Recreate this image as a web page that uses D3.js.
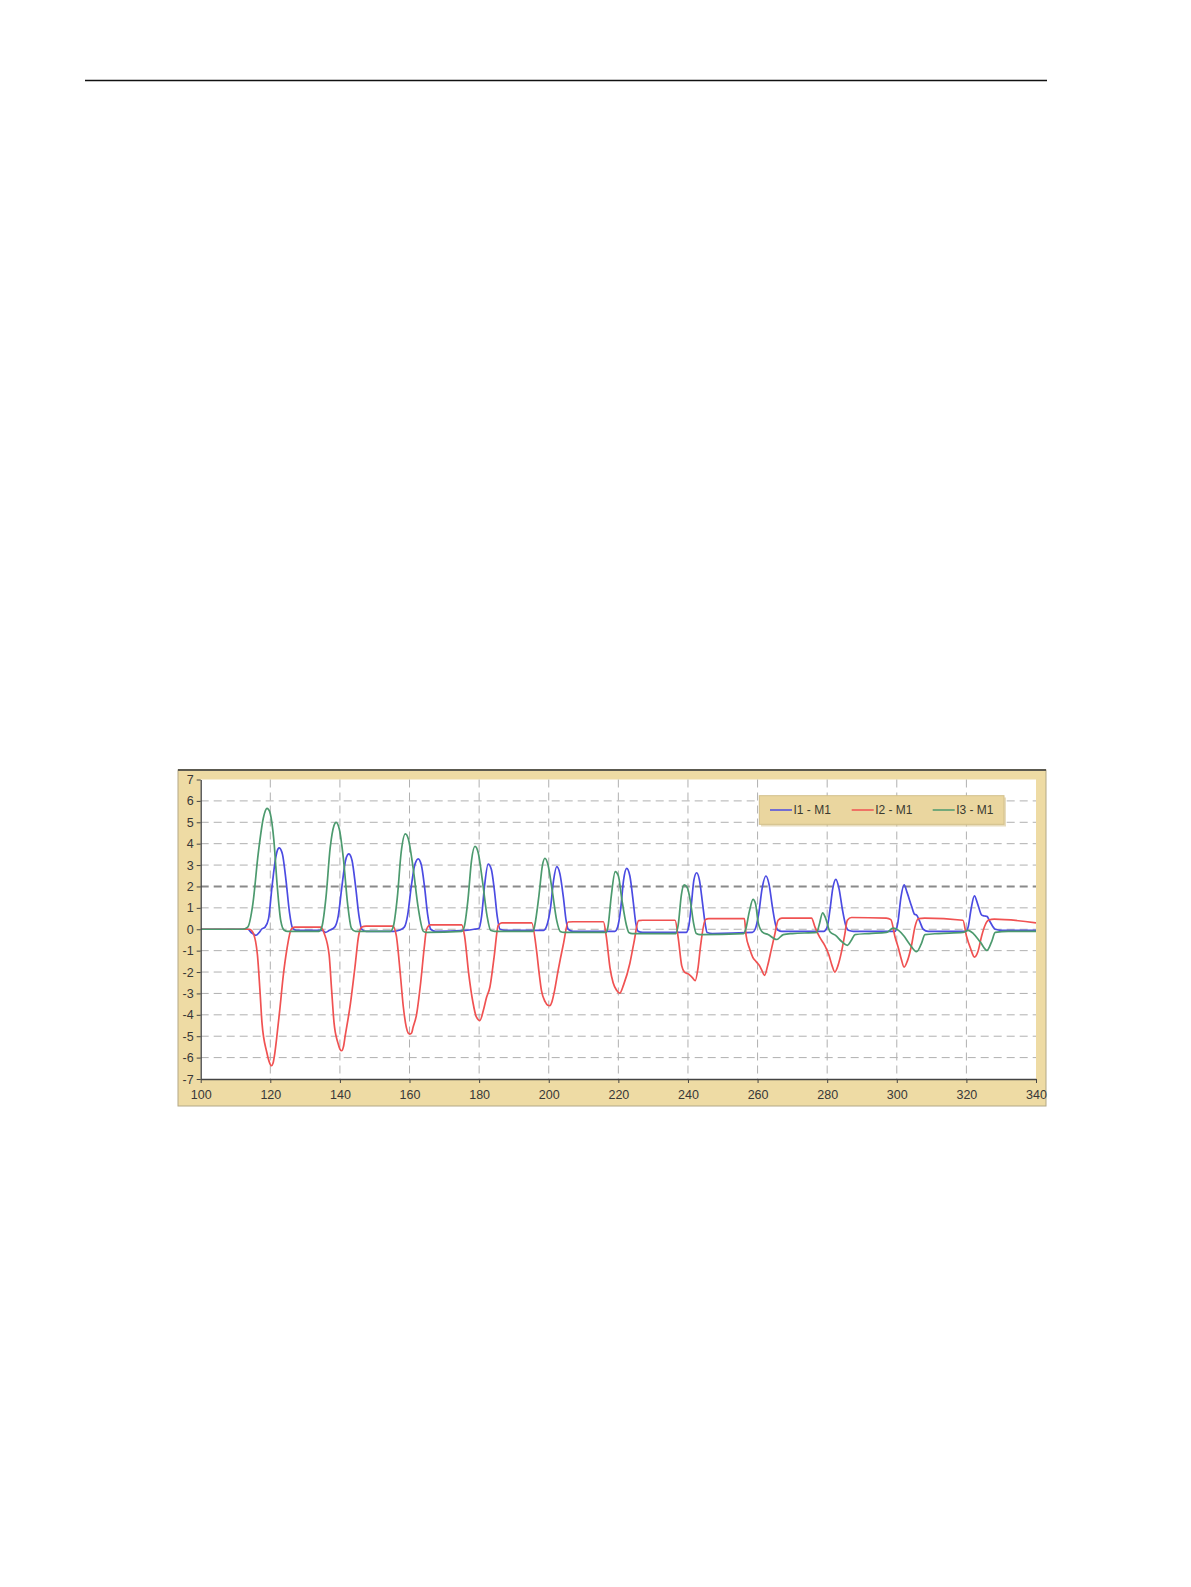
<!DOCTYPE html>
<html>
<head>
<meta charset="utf-8">
<script src="https://cdn.jsdelivr.net/npm/d3@7/dist/d3.min.js"></script>
<style>
  body { margin: 0; background: #fff; }
  svg text { font-family: "Liberation Sans", Arial, sans-serif; }
</style>
</head>
<body>
<svg id="chart" width="1191" height="1587"></svg>
<script>
// ---- data: [time, value] ----
var xTicks = [100, 120, 140, 160, 180, 200, 220, 240, 260, 280, 300, 320, 340];
var yTicks = [-7, -6, -5, -4, -3, -2, -1, 0, 1, 2, 3, 4, 5, 6, 7];
var seriesNames = ["I1 - M1", "I2 - M1", "I3 - M1"];
var seriesColors = ["#4b4be2", "#f05252", "#4c9a6e"];

var i1 = [[100,0],[113.5,0],[114.5,-0.15],[115.9,-0.28],[116.8,-0.15],[117.5,0],[118.5,0.1],[119.5,0.5],[120.5,2.0],[121.5,3.3],[122.2,3.75],[122.6,3.8],[123.1,3.7],[123.5,3.5],[124.5,2.3],[125.5,0.8],[126.4,0.05],[127.5,-0.05],
  [135,-0.05],[135.8,-0.15],[137,-0.05],[138.5,0.1],[139.5,0.6],[140.5,1.9],[141.6,3.2],[142.2,3.48],[142.6,3.52],[143,3.45],[143.5,3.2],[144.5,2.0],[145.5,0.6],[146.3,0],[147.5,-0.1],
  [155.5,-0.1],[157,-0.05],[158.5,0.1],[159.5,0.7],[160.5,2.0],[161.5,3.0],[162.5,3.29],[163.4,3.0],[164.3,2.0],[165.2,0.7],[166.1,0],[167.5,-0.1],
  [176,-0.05],[178.5,0],[180,0.05],[180.7,0.6],[181.6,2.1],[182.6,3.05],[183.5,2.8],[184.4,1.8],[185.2,0.6],[186,0],[187.5,-0.05],
  [198.5,-0.05],[199.5,0.2],[200.5,1.0],[201.4,2.3],[202.3,2.93],[203.2,2.6],[204.2,1.5],[205,0.4],[205.6,0],[207,-0.1],
  [219,-0.1],[219.8,0.1],[220.7,1.0],[221.5,2.3],[222.4,2.85],[223.3,2.5],[224.2,1.4],[225,0.3],[225.7,-0.1],[227,-0.15],
  [239.5,-0.15],[240.3,0.2],[241,1.2],[241.7,2.3],[242.5,2.64],[243.3,2.3],[244.2,1.2],[245,0.2],[245.5,-0.15],[247,-0.2],
  [258.5,-0.15],[259.3,0],[260.3,0.7],[261.3,1.9],[262.4,2.49],[263.3,2.1],[264.3,1.0],[265.2,0.2],[265.9,-0.05],[267,-0.1],
  [279,-0.1],[280,0.1],[280.8,0.9],[281.6,1.9],[282.5,2.33],[283.4,1.9],[284.4,0.9],[285.3,0.2],[286.1,-0.05],[287.5,-0.1],
  [299.5,-0.1],[300.3,0.3],[301.2,1.5],[302.1,2.07],[303,1.7],[304.3,1.05],[305.1,0.7],[305.7,0.66],[306.5,0.4],[307.6,0],[309,-0.1],
  [319.8,-0.1],[320.5,0.1],[321.3,0.9],[322.3,1.56],[323.2,1.2],[324.4,0.66],[325.2,0.62],[325.9,0.6],[326.8,0.35],[328.3,0],[330,-0.05],[340,-0.05]];

var i2 = [[100,0],[114,0],[115,-0.15],[116.3,-1.2],[117,-2.8],[117.6,-4.35],[119,-5.76],[119.7,-6.2],[120.3,-6.38],[120.8,-6.25],[121.2,-5.9],[121.8,-5.13],[122.7,-3.8],[123.7,-2.2],[124.8,-0.9],[126,0],[127,0.1],[134.5,0.1],
  [135.5,-0.2],[136.9,-1.2],[137.6,-2.8],[138.3,-4.35],[139.4,-5.3],[140,-5.6],[140.5,-5.68],[141,-5.5],[141.5,-5.0],[143,-3.5],[144.3,-1.8],[145.4,-0.28],[146.3,0.1],[147.5,0.15],[155.2,0.15],
  [156.2,-0.3],[157.3,-2.0],[158.2,-3.6],[159.1,-4.6],[159.6,-4.85],[160.1,-4.9],[160.6,-4.85],[161,-4.6],[162,-4.0],[163.2,-2.5],[164.2,-0.9],[164.9,0],[166,0.2],[175,0.2],
  [175.8,-0.3],[177,-2.07],[178.2,-3.4],[179.2,-4.1],[180.2,-4.27],[181.2,-3.8],[182.1,-3.2],[183.1,-2.7],[184.3,-1.3],[185.5,0.19],[186.5,0.3],[195.1,0.3],
  [196.5,-1.0],[197.2,-2.0],[197.9,-2.86],[199,-3.4],[199.7,-3.55],[200.3,-3.57],[200.9,-3.4],[201.5,-3.0],[202.7,-1.92],[204.2,-0.7],[205.6,0.34],[207,0.35],[215.7,0.35],
  [216.5,-0.3],[217.6,-1.8],[218.5,-2.5],[219.5,-2.85],[220.4,-2.99],[221.5,-2.6],[223.3,-1.6],[224.5,-0.6],[225.8,0.4],[227,0.42],[236.3,0.42],
  [237.2,-0.4],[238.2,-1.7],[239,-2.0],[240.2,-2.1],[241.2,-2.25],[242.1,-2.4],[242.9,-1.8],[243.6,-0.8],[245,0.45],[246,0.5],[256.2,0.5],
  [256.7,-0.28],[257.7,-0.9],[258.6,-1.3],[259.5,-1.5],[260.5,-1.69],[261.3,-1.95],[262,-2.16],[262.9,-1.7],[263.9,-0.99],[265,-0.2],[265.9,0.42],[267,0.52],[275.5,0.52],
  [276.5,0.1],[277.8,-0.36],[279.3,-0.75],[280.5,-1.2],[281.4,-1.7],[282.2,-2.0],[283.1,-1.7],[284.2,-0.99],[285,-0.3],[285.8,0.42],[287,0.55],[297,0.52],[298.3,0.45],
  [299.5,-0.36],[300.5,-0.9],[301.3,-1.4],[302.1,-1.77],[303,-1.5],[304.3,-0.7],[305.2,0.1],[306.2,0.5],[308,0.52],[319,0.42],
  [320,-0.3],[321.2,-0.9],[322.3,-1.3],[323.3,-1.05],[324.4,-0.3],[325.4,0.2],[326.3,0.42],[328,0.47],[340,0.3]];

var i3 = [[100,0],[112,0],[113.5,0.1],[115,1.2],[116.5,3.5],[118,5.2],[118.6,5.55],[119,5.65],[119.5,5.6],[120,5.4],[121,4.2],[122,2.0],[123,0.4],[124,-0.05],[125,-0.1],[134,-0.1],
  [134.8,0.1],[136,1.5],[137.2,3.8],[138.3,4.85],[138.9,5.0],[139.8,4.7],[141,3.3],[142.2,1.2],[143.3,0.05],[144.5,-0.1],[154.5,-0.1],
  [155.3,0.1],[156.5,1.5],[157.6,3.6],[158.8,4.46],[159.7,4.2],[161,2.9],[162.5,1.0],[164,-0.1],[165,-0.15],[175,-0.1],
  [175.7,0.1],[176.8,1.4],[177.8,3.2],[178.8,3.87],[179.7,3.6],[181,2.2],[182.3,0.6],[183.3,-0.05],[184.5,-0.1],[195.5,-0.1],
  [196,0.2],[197.2,1.6],[198.2,3.0],[198.9,3.32],[199.8,3.0],[201,1.8],[202.3,0.4],[203.3,-0.1],[204.5,-0.15],[216.5,-0.15],
  [217,0.1],[218,1.6],[219.1,2.69],[220,2.5],[221,1.4],[222.3,0.2],[223,-0.15],[224,-0.2],[236.5,-0.2],
  [237.2,0.2],[238.1,1.6],[238.9,2.07],[239.8,1.95],[240.7,1.3],[241.6,0.3],[242.4,-0.2],[243.5,-0.25],[256,-0.2],
  [256.6,0],[257.6,0.8],[258.7,1.4],[259.4,1.2],[260.2,0.3],[261.5,-0.15],[263,-0.25],[265.5,-0.48],[267.4,-0.25],[270,-0.2],[277,-0.15],
  [277.7,0.2],[278.7,0.77],[279.6,0.5],[280.8,-0.12],[282.5,-0.3],[284,-0.55],[285.8,-0.75],[287,-0.5],[288,-0.25],[292,-0.2],[297,-0.15],
  [299,0.05],[300.5,-0.05],[302,-0.3],[303.5,-0.65],[305.7,-1.05],[307,-0.7],[308.1,-0.25],[312,-0.2],[319,-0.15],
  [320.5,-0.05],[322,-0.2],[324,-0.6],[325.9,-0.99],[327.2,-0.6],[328.3,-0.15],[332,-0.1],[340,-0.1]];

var seriesData = [i1, i2, i3];
var thresholdLevel = 2;

// ---- layout ----
var svg = d3.select("#chart");
var frame = {x: 178, y: 770, w: 868, h: 336};
var plot = {left: 200.7, right: 1036, top: 779.5, bottom: 1079};

var x = d3.scaleLinear().domain([100, 340]).range([plot.left, plot.right]);
var y = d3.scaleLinear().domain([-7, 7]).range([plot.bottom, plot.top]);

// page rule at the top
svg.append("line")
    .attr("x1", 85).attr("x2", 1047)
    .attr("y1", 80.5).attr("y2", 80.5)
    .attr("stroke", "#111").attr("stroke-width", 1.5);

// tan frame
svg.append("rect")
    .attr("x", frame.x).attr("y", frame.y)
    .attr("width", frame.w).attr("height", frame.h)
    .attr("fill", "#eedba4")
    .attr("stroke", "#b3a886").attr("stroke-width", 1);
svg.append("line")
    .attr("x1", frame.x).attr("x2", frame.x + frame.w)
    .attr("y1", frame.y).attr("y2", frame.y)
    .attr("stroke", "#5c5a50").attr("stroke-width", 2);

// plot background
svg.append("rect")
    .attr("x", plot.left).attr("y", plot.top)
    .attr("width", plot.right - plot.left).attr("height", plot.bottom - plot.top)
    .attr("fill", "#fff");

// grid
var grid = svg.append("g");
grid.selectAll(".hg")
    .data(yTicks.filter(function(d){ return d > -7 && d < 7; }))
    .enter().append("line")
    .attr("x1", plot.left).attr("x2", plot.right)
    .attr("y1", function(d){ return y(d); })
    .attr("y2", function(d){ return y(d); })
    .attr("stroke", function(d){ return d === thresholdLevel ? "#8a8a8a" : "#b0b0b0"; })
    .attr("stroke-width", function(d){ return d === thresholdLevel ? 2 : 1; })
    .attr("stroke-dasharray", "8,5");
grid.selectAll(".vg")
    .data(xTicks.filter(function(d){ return d > 100 && d < 340; }))
    .enter().append("line")
    .attr("x1", function(d){ return x(d); })
    .attr("x2", function(d){ return x(d); })
    .attr("y1", plot.top).attr("y2", plot.bottom)
    .attr("stroke", "#b0b0b0").attr("stroke-width", 1)
    .attr("stroke-dasharray", "8,5");

// series
svg.append("clipPath").attr("id", "clip")
    .append("rect")
    .attr("x", plot.left).attr("y", plot.top)
    .attr("width", plot.right - plot.left).attr("height", plot.bottom - plot.top);

var line = d3.line()
    .x(function(d){ return x(d[0]); })
    .y(function(d){ return y(d[1]); })
    .curve(d3.curveMonotoneX);

svg.append("g").attr("clip-path", "url(#clip)")
    .selectAll("path")
    .data(seriesData)
    .enter().append("path")
    .attr("d", line)
    .attr("fill", "none")
    .attr("stroke", function(d, i){ return seriesColors[i]; })
    .attr("stroke-width", 1.7)
    .attr("stroke-linejoin", "round");

// axes (plain hyphen for negatives, as in the original)
var yAxis = svg.append("g")
    .attr("transform", "translate(" + plot.left + ",0)")
    .call(d3.axisLeft(y).tickValues(yTicks).tickSize(4).tickSizeOuter(0).tickPadding(3).tickFormat(function(d){ return String(d); }));
var xAxis = svg.append("g")
    .attr("transform", "translate(0," + plot.bottom + ")")
    .call(d3.axisBottom(x).tickValues(xTicks).tickSize(4).tickSizeOuter(0).tickPadding(7).tickFormat(function(d){ return String(d); }));
[xAxis, yAxis].forEach(function(a){
    a.select(".domain").attr("stroke", "#444").attr("stroke-width", 1.3);
    a.selectAll(".tick line").attr("stroke", "#444");
    a.selectAll("text").attr("fill", "#383838").style("font-size", "12.5px");
});

// legend
var legend = svg.append("g");
legend.append("rect")
    .attr("x", 761).attr("y", 797.5)
    .attr("width", 245).attr("height", 29)
    .attr("fill", "#d9c793").attr("opacity", 0.6);
legend.append("rect")
    .attr("x", 759.3).attr("y", 795.7)
    .attr("width", 244.7).attr("height", 28.6)
    .attr("fill", "#ead69f")
    .attr("stroke", "#d3c08a").attr("stroke-width", 1);
var legendX = [770, 851.7, 932.7];
var items = legend.selectAll(".item")
    .data(seriesNames)
    .enter().append("g")
    .attr("transform", function(d, i){ return "translate(" + legendX[i] + ",810)"; });
items.append("line")
    .attr("x1", 0).attr("x2", 22).attr("y1", 0).attr("y2", 0)
    .attr("stroke", function(d, i){ return seriesColors[i]; })
    .attr("stroke-width", 1.5);
items.append("text")
    .attr("x", 23.5).attr("dy", "0.35em")
    .style("font-size", "12px")
    .attr("fill", "#3a3a30")
    .text(function(d){ return d; });
</script>
</body>
</html>
